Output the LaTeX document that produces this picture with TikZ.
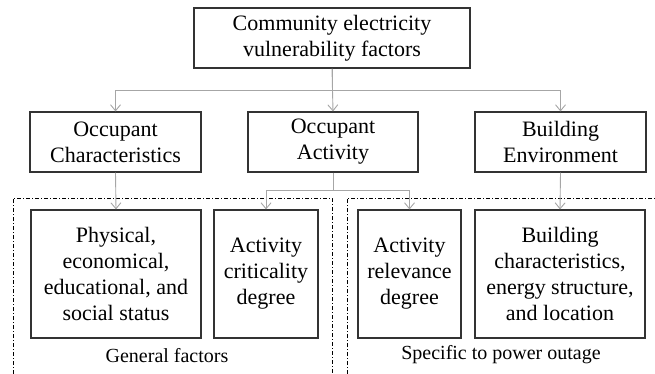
\documentclass[tikz,border=0pt]{standalone}
\usepackage{fontspec}
\setmainfont{Liberation Serif}
\usetikzlibrary{arrows.meta}
\begin{document}
\begin{tikzpicture}[x=1pt,y=-1pt,
        box/.style={draw=black!80, line width=1.1pt, align=center, inner sep=0pt,
            font=\fontsize{22}{26}\selectfont},
        link/.style={draw=black!35, line width=0.9pt, ->, >={Straight Barb[length=6pt,width=10pt]}},
        region/.style={draw=black, line width=0.8pt, dash pattern=on 4pt off 2pt on 1pt off 2pt},
        regionlabel/.style={font=\fontsize{20}{24}\selectfont}]
        \useasboundingbox (0,0) rectangle (655,374);

        \node[box, minimum width=276pt, minimum height=60pt] (top) at (332,38) {Community electricity\\vulnerability factors};

        \node[box, minimum width=171pt, minimum height=60pt] (char) at (115.5,142) {Occupant\\Characteristics};
        \node[box, minimum width=170pt, minimum height=60pt] (act) at (333,142) {Occupant\\Activity};
        \node[box, minimum width=171pt, minimum height=60pt] (env) at (560.5,142) {Building\\Environment};

        \node[box, minimum width=170pt, minimum height=128pt] (phys) at (116,274) {Physical,\\economical,\\educational, and\\social status};
        \node[box, minimum width=104pt, minimum height=128pt] (crit) at (266,274) {Activity\\criticality\\degree};
        \node[box, minimum width=103pt, minimum height=128pt] (relev) at (409.5,274) {Activity\\relevance\\degree};
        \node[box, minimum width=170pt, minimum height=128pt] (bchar) at (560,274) {Building\\characteristics,\\energy structure,\\and location};

        % dash-dot regions, open at the bottom
        \coordinate (gen sw) at (13,374);
        \coordinate (gen ne) at (332,198);
        \coordinate (spec sw) at (347,374);
        \coordinate (spec ne) at (655,198);
        \path[region] (gen sw) |- (gen ne) -- (gen ne |- gen sw);
        \path[region] (spec sw) |- (spec ne);

        \node[regionlabel] (gen) at (167,356) {General factors};
        \node[regionlabel] (spec) at (501,355) {Specific to power outage};

        \path[link] (top.south) -- ++(0,22) -| (char.north);
        \path[link] (top.south) -- (act.north);
        \path[link] (top.south) -- ++(0,22) -| (env.north);

        \path[link] (char.south) -- (phys.north);
        \path[link] (act.south) -- ++(0,18) -| (crit.north);
        \path[link] (act.south) -- ++(0,18) -| (relev.north);
        \path[link] (env.south) -- (bchar.north);

    \end{tikzpicture}
\end{document}
